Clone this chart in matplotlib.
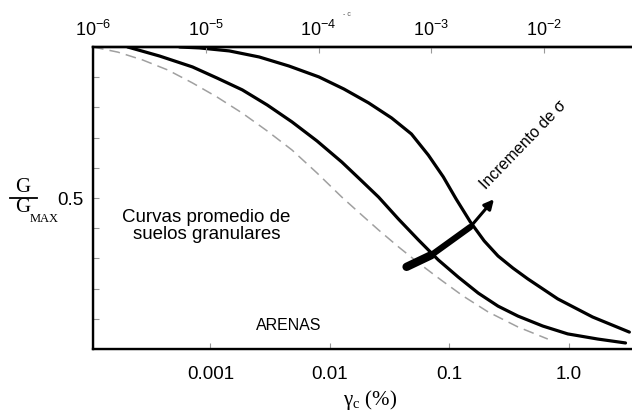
import matplotlib.pyplot as plt
import numpy as np

# shear strain gamma_c in percent, normalised modulus G/Gmax
dashed_x = [1.04e-4, 1.68e-4, 2.71e-4, 4.39e-4, 7.08e-4, 1.14e-3, 1.85e-3, 2.99e-3, 4.82e-3, 7.80e-3,
            0.0126, 0.0181, 0.0256, 0.0376, 0.0552, 0.0857, 0.131, 0.211, 0.376, 0.668]
dashed_y = [1.0, 0.983, 0.957, 0.924, 0.881, 0.834, 0.781, 0.722, 0.659, 0.583,
            0.503, 0.447, 0.394, 0.338, 0.285, 0.228, 0.175, 0.123, 0.073, 0.033]

low_x = [2.03e-4, 3.76e-4, 7.08e-4, 1.14e-3, 1.85e-3, 2.99e-3, 4.82e-3, 7.80e-3, 0.0126, 0.0181, 0.0256,
         0.0376, 0.0552, 0.0809, 0.119, 0.175, 0.256, 0.376, 0.607, 0.981, 1.75, 2.99]
low_y = [1.0, 0.970, 0.934, 0.897, 0.858, 0.808, 0.752, 0.689, 0.619, 0.560, 0.503,
         0.430, 0.361, 0.295, 0.238, 0.185, 0.142, 0.109, 0.076, 0.050, 0.033, 0.020]

high_x = [5.52e-4, 8.09e-4, 1.44e-3, 2.56e-3, 4.55e-3, 8.09e-3, 0.0131, 0.0211, 0.0329, 0.0482, 0.0668,
          0.0891, 0.114, 0.150, 0.196, 0.256, 0.341, 0.455, 0.809, 1.585, 3.22]
high_y = [1.0, 0.997, 0.987, 0.967, 0.937, 0.901, 0.861, 0.815, 0.765, 0.712, 0.642,
          0.570, 0.497, 0.421, 0.358, 0.308, 0.268, 0.232, 0.166, 0.106, 0.056]

bottom_ticks = [0.001, 0.01, 0.1, 1.0]
bottom_labels = ['0.001', '0.01', '0.1', '1.0']
top_ticks = [1e-6, 1e-5, 1e-4, 1e-3, 1e-2]

# arrow "Incremento de sigma"
arrow_x = [0.0439, 0.0708, 0.15, 0.245]
arrow_y = [0.272, 0.311, 0.404, 0.503]

plt.rcParams['font.family'] = 'Liberation Sans'
plt.rcParams['mathtext.fontset'] = 'custom'
plt.rcParams['mathtext.rm'] = 'Liberation Serif'
plt.rcParams['mathtext.it'] = 'Liberation Serif:italic'
plt.rcParams['mathtext.sf'] = 'Liberation Sans'
plt.rcParams['axes.unicode_minus'] = False

fig = plt.figure(figsize=(6.32, 4.13), dpi=100)
ax = fig.add_axes([93/632, 64/413, 1 - 93/632, 302/413])

ax.plot(dashed_x, dashed_y, color='#a0a0a0', lw=1.1, dashes=(7, 4))
ax.plot(low_x, low_y, color='black', lw=2.3, solid_capstyle='round')
ax.plot(high_x, high_y, color='black', lw=2.3, solid_capstyle='round')

# tapered arrow body
widths = [6.0, 4.5, 3.0]
for i in range(len(arrow_x) - 2):
    ax.plot(arrow_x[i:i+2], arrow_y[i:i+2], color='black', lw=widths[i], solid_capstyle='round')
ax.annotate('', xy=(arrow_x[-1], arrow_y[-1]), xytext=(arrow_x[-2], arrow_y[-2]),
            arrowprops=dict(arrowstyle='-|>', color='black', lw=2.2, mutation_scale=14))

ax.set_xscale('log')
ax.set_xlim(10**-3.983, 10**0.53)
ax.set_ylim(0, 1)

ax.set_xticks(bottom_ticks)
ax.set_xticklabels(bottom_labels)
ax.xaxis.set_minor_locator(plt.NullLocator())
yt = np.arange(1, 10) / 10
ax.set_yticks(yt)
ax.set_yticklabels(['0.5' if t == 0.5 else '' for t in yt])
ax.tick_params(direction='in', length=4, width=0.8, color='#999999', labelsize=13.5)
ax.tick_params(axis='x', pad=12)
ax.tick_params(axis='y', pad=7)

for side in ['left', 'bottom', 'top']:
    ax.spines[side].set_linewidth(1.7)
ax.spines['right'].set_visible(False)

# upper strain scale (absolute)
top = ax.twiny()
top.set_xscale('log')
top.set_xlim(1e-6, 10**-1.22)
top.set_xticks(top_ticks)
top.set_xticklabels([r'$\mathsf{10^{%d}}$' % np.log10(t) for t in top_ticks])
top.xaxis.set_minor_locator(plt.NullLocator())
top.tick_params(direction='in', length=4, width=0.8, color='#999999', labelsize=13, pad=5)
top.spines['right'].set_visible(False)
top.spines['top'].set_linewidth(1.7)

ax.text(9.3e-4, 0.407, 'Curvas promedio de\nsuelos granulares', fontsize=13.5,
        ha='center', va='center', linespacing=1.05)
ax.text(4.55e-3, 0.079, 'ARENAS', fontsize=11.5, ha='center', va='center')
ax.text(0.414, 0.675, 'Incremento de σ', fontsize=11.5, rotation=46,
        ha='center', va='center', rotation_mode='anchor')

fig.text(370/632, 1 - 400/413, r'$\mathrm{\gamma_c}$ (%)', family='Liberation Serif',
         fontsize=15, ha='center', va='center')

# G / G_MAX written as a stacked fraction
fig.text(23/632, 1 - 188/413, 'G', family='Liberation Serif', fontsize=15,
         ha='center', va='center')
fig.add_artist(plt.Line2D([10/632, 37/632], [1 - 198/413, 1 - 198/413],
                          color='black', lw=1.3, transform=fig.transFigure))
fig.text(23/632, 1 - 207/413, 'G', family='Liberation Serif', fontsize=15,
         ha='center', va='center')
fig.text(30/632, 1 - 219/413, 'MAX', family='Liberation Serif', fontsize=9,
         ha='left', va='center')
fig.text(347/632, 1 - 14/413, '- c', fontsize=5, color='#555555', ha='center', va='center')

fig.savefig('out.png', dpi=100)
